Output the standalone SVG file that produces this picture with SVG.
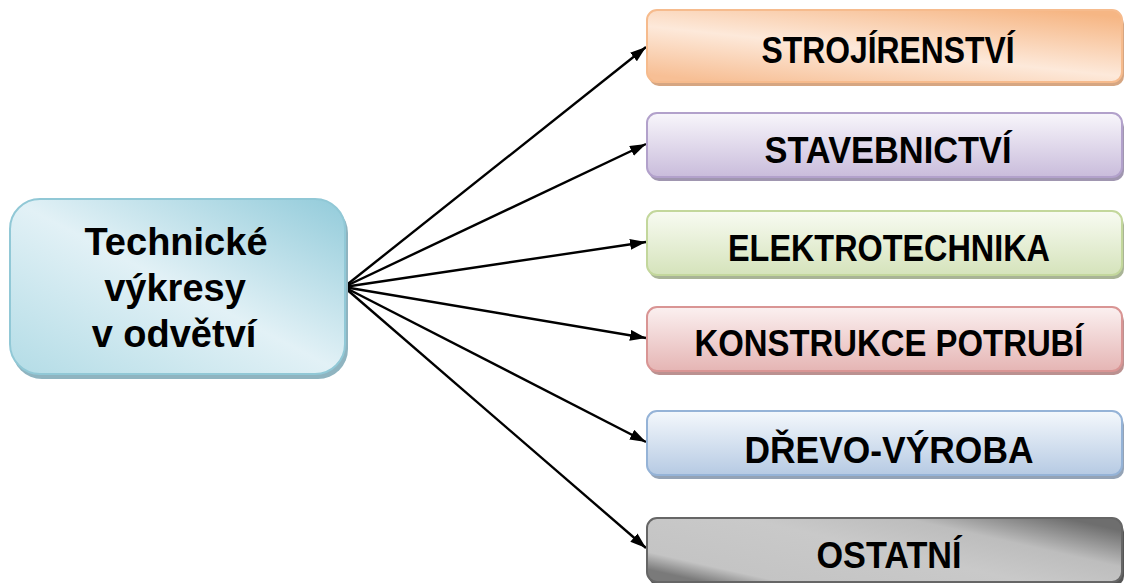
<svg xmlns="http://www.w3.org/2000/svg" width="1124" height="583" viewBox="0 0 1124 583">
  <defs>
    <linearGradient id="gMain" x1="1" y1="0" x2="0" y2="1">
      <stop offset="0" stop-color="#92cbda"/>
      <stop offset="0.5" stop-color="#e2f1f6"/>
      <stop offset="1" stop-color="#b3dce6"/>
    </linearGradient>
    <linearGradient id="gOrange" x1="0.15" y1="1" x2="0.85" y2="0">
      <stop offset="0" stop-color="#f7bf95"/>
      <stop offset="0.45" stop-color="#fde9da"/>
      <stop offset="1" stop-color="#f6b684"/>
    </linearGradient>
    <linearGradient id="gPurple" x1="0" y1="0" x2="0" y2="1">
      <stop offset="0" stop-color="#f8f6fb"/>
      <stop offset="1" stop-color="#c9bcdb"/>
    </linearGradient>
    <linearGradient id="gGreen" x1="0" y1="0" x2="0" y2="1">
      <stop offset="0" stop-color="#f8fbf2"/>
      <stop offset="1" stop-color="#d5e3bb"/>
    </linearGradient>
    <linearGradient id="gRed" x1="0" y1="0" x2="0" y2="1">
      <stop offset="0" stop-color="#fbf0f0"/>
      <stop offset="1" stop-color="#e5b5b4"/>
    </linearGradient>
    <linearGradient id="gBlue" x1="0" y1="0" x2="0" y2="1">
      <stop offset="0" stop-color="#f4f8fc"/>
      <stop offset="1" stop-color="#b6cae3"/>
    </linearGradient>
    <linearGradient id="gGrey" x1="0" y1="0.8" x2="1" y2="0.2">
      <stop offset="0" stop-color="#7a7a7a"/>
      <stop offset="0.12" stop-color="#c4c4c4"/>
      <stop offset="0.5" stop-color="#c9c9c9"/>
      <stop offset="0.75" stop-color="#bdbdbd"/>
      <stop offset="1" stop-color="#6e6e6e"/>
    </linearGradient>
    <marker id="arrow" viewBox="0 0 16 11" refX="16" refY="5.5" markerWidth="16" markerHeight="11" markerUnits="userSpaceOnUse" orient="auto">
      <path d="M0,0 L16,5.5 L0,11 z" fill="#000"/>
    </marker>
  </defs>
  <style>
    .lbl { font-family: "Liberation Sans", Arial, sans-serif; font-weight: bold; font-size: 36px; fill: #000; text-anchor: middle; }
    .main { font-size: 38px; }
    .edge { stroke: #000; stroke-width: 2.4; fill: none; marker-end: url(#arrow); }
    .box { stroke-width: 2; }
  </style>

  <!-- connectors -->
  <g id="connectors">
    <line class="edge" x1="344" y1="287" x2="646" y2="47"/>
    <line class="edge" x1="344" y1="287" x2="646" y2="144"/>
    <line class="edge" x1="344" y1="287" x2="646" y2="242"/>
    <line class="edge" x1="344" y1="287" x2="646" y2="338"/>
    <line class="edge" x1="344" y1="287" x2="646" y2="442"/>
    <line class="edge" x1="344" y1="287" x2="646" y2="548"/>
  </g>

  <!-- central node -->
  <g id="node-main">
    <rect x="12" y="203" width="336" height="176" rx="30" fill="#8fb4c0"/>
    <rect class="box" x="10" y="199" width="335" height="175" rx="30" fill="url(#gMain)" stroke="#91c8d6"/>
    <text class="lbl main" x="176" y="255">Technické</text>
    <text class="lbl main" x="175" y="301">výkresy</text>
    <text class="lbl main" x="174" y="347">v odvětví</text>
  </g>

  <g id="node-strojirenstvi">
    <rect x="649" y="14" width="475" height="72" rx="10" fill="#d6a682"/>
    <rect class="box" x="647" y="10" width="475" height="72" rx="10" fill="url(#gOrange)" stroke="#f6bb8d"/>
    <text class="lbl" x="888" y="63" textLength="253" lengthAdjust="spacingAndGlyphs">STROJÍRENSTVÍ</text>
  </g>

  <g id="node-stavebnictvi">
    <rect x="649" y="117" width="475" height="64" rx="10" fill="#a096b0"/>
    <rect class="box" x="647" y="113" width="475" height="64" rx="10" fill="url(#gPurple)" stroke="#b2a1cb"/>
    <text class="lbl" x="888" y="163" textLength="247" lengthAdjust="spacingAndGlyphs">STAVEBNICTVÍ</text>
  </g>

  <g id="node-elektrotechnika">
    <rect x="649" y="215" width="475" height="64" rx="10" fill="#a9b496"/>
    <rect class="box" x="647" y="211" width="475" height="64" rx="10" fill="url(#gGreen)" stroke="#c3d79c"/>
    <text class="lbl" x="889" y="261" textLength="322" lengthAdjust="spacingAndGlyphs">ELEKTROTECHNIKA</text>
  </g>

  <g id="node-konstrukce-potrubi">
    <rect x="649" y="311" width="475" height="64" rx="10" fill="#bb9190"/>
    <rect class="box" x="647" y="307" width="475" height="64" rx="10" fill="url(#gRed)" stroke="#d99594"/>
    <text class="lbl" x="889" y="356" textLength="389" lengthAdjust="spacingAndGlyphs">KONSTRUKCE POTRUBÍ</text>
  </g>

  <g id="node-drevo-vyroba">
    <rect x="649" y="415" width="475" height="64" rx="10" fill="#94a3b6"/>
    <rect class="box" x="647" y="411" width="475" height="64" rx="10" fill="url(#gBlue)" stroke="#95b3d7"/>
    <text class="lbl" x="889" y="463" textLength="289" lengthAdjust="spacingAndGlyphs">DŘEVO-VÝROBA</text>
  </g>

  <g id="node-ostatni">
    <rect x="649" y="522" width="475" height="64" rx="10" fill="#555555"/>
    <rect class="box" x="647" y="518" width="475" height="64" rx="10" fill="url(#gGrey)" stroke="#666666"/>
    <text class="lbl" x="889" y="568" textLength="145" lengthAdjust="spacingAndGlyphs">OSTATNÍ</text>
  </g>
</svg>
